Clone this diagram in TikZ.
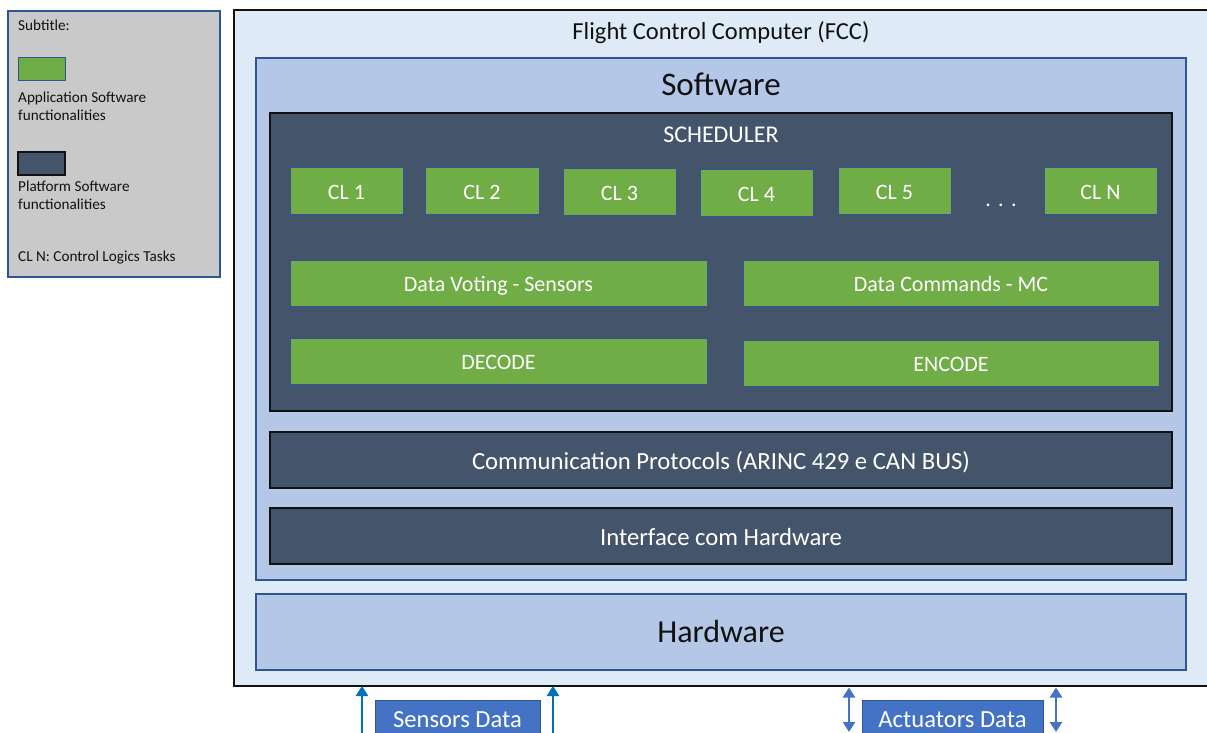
\documentclass[tikz,border=0pt]{standalone}
\usepackage{fontspec}
\setmainfont{Carlito}
\usetikzlibrary{arrows.meta}

\definecolor{fccfill}{HTML}{DEEBF7}
\definecolor{swfill}{HTML}{B4C7E7}
\definecolor{swline}{HTML}{2F5597}
\definecolor{platfill}{HTML}{44546A}
\definecolor{appfill}{HTML}{70AD47}
\definecolor{legfill}{HTML}{C9C9C9}
\definecolor{datafill}{HTML}{4472C4}
\definecolor{sensarrow}{HTML}{0070C0}
\definecolor{actarrow}{HTML}{4472C4}
\definecolor{ink}{HTML}{111111}

\tikzset{
  blk/.style={rectangle, anchor=north west, inner sep=0pt, outer sep=0pt},
  fccbox/.style={blk, fill=fccfill, draw=ink, line width=1.3pt},
  swbox/.style={blk, fill=swfill, draw=swline, line width=1.3pt},
  platbox/.style={blk, text height=20pt, text depth=1pt, fill=platfill, draw=ink, line width=1.4pt, text=white, font=\fontsize{24.7}{28}\selectfont},
  appbox/.style={blk, text height=18pt, text depth=1pt, fill=appfill, draw=swline, line width=0.8pt, text=white, font=\fontsize{22}{26}\selectfont},
  legbox/.style={blk, fill=legfill, draw=swline, line width=1.1pt},
  databox/.style={blk, text height=19pt, text depth=1pt, fill=datafill, draw=swline, line width=0.8pt, text=white, font=\fontsize{24.6}{28}\selectfont},
  legtext/.style={anchor=west, inner sep=0pt, text=ink, align=left, font=\fontsize{15.2}{18}\selectfont},
  title/.style={inner sep=0pt, text=ink},
  sensline/.style={draw=sensarrow, line width=2.8pt, -{Triangle[width=12pt,length=10pt]}},
  actline/.style={draw=actarrow, line width=2.8pt, {Triangle[width=12pt,length=10pt]}-{Triangle[width=12pt,length=10pt]}}
}

\begin{document}
\begin{tikzpicture}[x=1pt, y=-1pt]
\useasboundingbox (0,0) rectangle (1207,733);

% legend
\node[legbox, minimum width=212pt, minimum height=266pt] (legend) at (8,11) {};
\node[legtext] (legtitle) at (18,25) {Subtitle:};
\node[blk, fill=appfill, draw=swline, line width=1pt, minimum width=47pt, minimum height=23pt] (swapp) at (18,58) {};
\node[legtext, anchor=north west] (legapp) at (18,92) {Application Software\\functionalities};
\node[blk, fill=platfill, draw=ink, line width=1.2pt, minimum width=47pt, minimum height=23pt] (swplat) at (18,152) {};
\node[legtext, anchor=north west] (legplat) at (18,181) {Platform Software\\functionalities};
\node[legtext] (legcl) at (18,258) {CL N: Control Logics Tasks};

% flight control computer frame
\node[fccbox, minimum width=1000pt, minimum height=676pt] (fcc) at (234,10) {};
\node[title, font=\fontsize{24.5}{28}\selectfont] (fcctitle) at (721,33) {Flight Control Computer (FCC)};

% software layer
\node[swbox, minimum width=930pt, minimum height=522pt] (software) at (256,58) {};
\node[title, font=\fontsize{33}{38}\selectfont] (swtitle) at (721,84) {Software};

% scheduler
\node[blk, fill=platfill, draw=ink, line width=1.4pt, minimum width=902pt, minimum height=298pt] (scheduler) at (270,113) {};
\node[title, text=white, font=\fontsize{24}{28}\selectfont] (schedtitle) at (721,135) {SCHEDULER};

% control logic tasks
\node[appbox, minimum width=113pt, minimum height=47pt] (cl1) at (290,167) {CL 1};
\node[appbox, minimum width=114pt, minimum height=47pt] (cl2) at (425,167) {CL 2};
\node[appbox, minimum width=113pt, minimum height=47pt] (cl3) at (563,168) {CL 3};
\node[appbox, minimum width=113pt, minimum height=47pt] (cl4) at (700,169) {CL 4};
\node[appbox, minimum width=113pt, minimum height=47pt] (cl5) at (838,167) {CL 5};
\node[title, text=white, font=\fontsize{22}{26}\selectfont] (cldots) at (1001,205) {.\,\,.\,\,.};
\node[appbox, minimum width=113pt, minimum height=47pt] (cln) at (1044,167) {CL N};

% data handling
\node[appbox, minimum width=417pt, minimum height=46pt] (vote) at (290,260) {Data Voting - Sensors};
\node[appbox, minimum width=416pt, minimum height=46pt] (cmd) at (743,260) {Data Commands - MC};
\node[appbox, minimum width=417pt, minimum height=46pt] (decode) at (290,338) {DECODE};
\node[appbox, minimum width=416pt, minimum height=46pt] (encode) at (743,340) {ENCODE};

% platform layers
\node[platbox, minimum width=902pt, minimum height=56pt] (comm) at (270,432) {Communication Protocols (ARINC 429 e CAN BUS)};
\node[platbox, minimum width=902pt, minimum height=56pt] (iface) at (270,508) {Interface com Hardware};

% hardware layer
\node[swbox, minimum width=930pt, minimum height=76pt, text=ink, font=\fontsize{32}{36}\selectfont] (hardware) at (256,594) {Hardware};

% external data
\node[databox, minimum width=165pt, minimum height=36pt] (sens) at (375,700) {Sensors Data};
\node[databox, minimum width=181pt, minimum height=36pt] (act) at (862,700) {Actuators Data};

\coordinate (s1) at (362,740);
\coordinate (s2) at (553,740);
\coordinate (a1) at (849,732);
\coordinate (a2) at (1056,732);
\draw[sensline] (s1) -- (s1 |- fcc.south);
\draw[sensline] (s2) -- (s2 |- fcc.south);
\draw[actline] (a1) -- ([yshift=-1.5pt]a1 |- fcc.south);
\draw[actline] (a2) -- ([yshift=-1.5pt]a2 |- fcc.south);
\end{tikzpicture}
\end{document}
